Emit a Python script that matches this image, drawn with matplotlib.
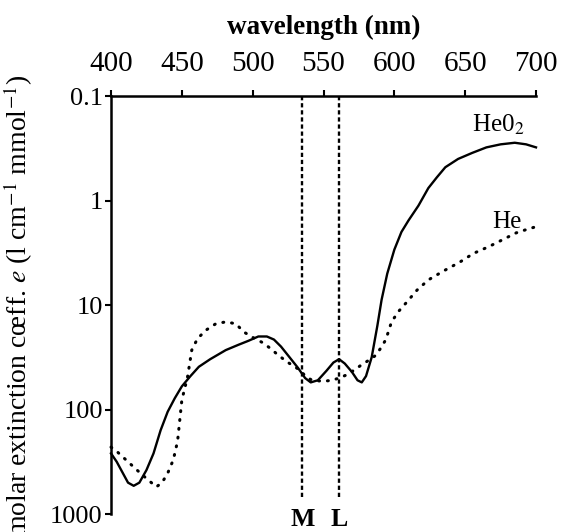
import numpy as np
import matplotlib
matplotlib.use("Agg")
import matplotlib.pyplot as plt
from matplotlib.transforms import blended_transform_factory

plt.rcParams['font.family'] = ['Liberation Serif', 'DejaVu Serif']
plt.rcParams['mathtext.fontset'] = 'stix'

# HeO2 (solid) - wavelength (nm), molar extinction coeff.
wl_heo2 = [400, 404, 408, 412, 416, 420, 425, 430, 435, 440, 445, 450, 456, 462,
           470, 481, 490, 497, 504, 510, 515, 520, 526, 532, 537, 541, 546, 552,
           557, 561, 565, 570, 574, 577, 580, 584, 588, 591, 595, 600, 605, 610,
           617, 624, 630, 636, 645, 655, 665, 675, 685, 693, 700]
e_heo2 = [263, 316, 398, 501, 537, 501, 380, 263, 158, 105, 78, 60, 48, 39,
          33, 27, 24, 22, 20, 20, 21.4, 25, 31.6, 40, 50, 55, 52.5, 42.7,
          35.5, 33, 36.3, 43.6, 52.5, 55, 47.9, 31.6, 15.8, 8.9, 5.0, 2.95, 2.0, 1.55,
          1.12, 0.76, 0.60, 0.48, 0.40, 0.35, 0.31, 0.29, 0.28, 0.29, 0.31]

# He (dotted)
wl_he = [400, 404, 408, 412, 416, 420, 425, 432, 436, 440, 444, 447, 450, 452,
         454, 457, 461, 467, 474, 481, 488, 494, 500, 507, 513, 518, 525, 533,
         538, 542, 550, 556, 561, 566, 572, 577, 583, 587, 591, 594, 598, 603,
         609, 616, 624, 635, 646, 656, 667, 677, 686, 693, 700]
e_he = [229, 251, 282, 316, 355, 398, 457, 550, 501, 407, 302, 200, 81, 63,
        49, 27, 21, 17.4, 15.1, 14.5, 15.1, 18.2, 20.4, 22.9, 26.3, 30.2, 35.5, 41.7,
        49, 52.5, 53.7, 52.5, 50, 46.8, 41.7, 37.2, 33.1, 30.2, 25.1, 21.4, 14.5, 11.5,
        9.3, 7.2, 5.75, 4.7, 3.9, 3.2, 2.75, 2.35, 2.04, 1.9, 1.78]

# cone peaks
peaks = [535, 561]
peak_names = ['M', 'L']

x_ticks = [400, 450, 500, 550, 600, 650, 700]
y_ticks = [0.1, 1, 10, 100, 1000]
y_labels = ['0.1', '1', '10', '100', '1000']

fig = plt.figure(figsize=(5.65, 5.32), dpi=100)
ax = fig.add_axes([0.1965, 0.0338, 0.7522, 0.7857])

ax.plot(wl_heo2, e_heo2, color='black', lw=1.7, clip_on=False)
ax.plot(wl_he, e_he, color='black', lw=2.2, linestyle=(0, (0.3, 2.6)),
        dash_capstyle='round', clip_on=False)

for p in peaks:
    ax.axvline(p, ymin=0.04, ymax=1, color='black', lw=1.7, linestyle=(0, (1.8, 1.2)))

ax.set_yscale('log')
ax.set_ylim(1000, 0.1)
ax.set_xlim(400, 700)

ax.xaxis.tick_top()
ax.xaxis.set_label_position('top')
ax.set_xticks(x_ticks)
ax.set_xticklabels([str(v) for v in x_ticks], fontsize=21)
ax.tick_params(axis='x', length=4, width=1.5, pad=10, direction='out')
ax.set_yticks(y_ticks)
ax.set_yticklabels(y_labels, fontsize=19)
ax.yaxis.set_minor_locator(matplotlib.ticker.NullLocator())
ax.tick_params(axis='y', length=4, width=1.5, pad=2, direction='out')

ax.spines['right'].set_visible(False)
ax.spines['bottom'].set_visible(False)
ax.spines['top'].set_linewidth(1.8)
ax.spines['left'].set_linewidth(1.8)

ax.set_xlabel('wavelength (nm)', fontsize=19.5, fontweight='bold', labelpad=12)

fig.text(0.032, 1 - 75 / 532, r'molar extinction cœff. $e$ (l cm$^{-1}$ mmol$^{-1}$)',
         rotation=90, ha='center', va='top', fontsize=20)

ax.text(472 / 565, 1 - 132 / 532, 'He0$_2$', transform=fig.transFigure,
        fontsize=18, ha='left', va='baseline')
ax.text(492 / 565, 1 - 228 / 532, 'He', transform=fig.transFigure,
        fontsize=18, ha='left', va='baseline')

# M / L just under the end of the dashed lines
trans = blended_transform_factory(ax.transData, fig.transFigure)
for p, name in zip(peaks, peak_names):
    ax.text(p, 1 - 519 / 532, name, transform=trans,
            ha='center', va='center', fontsize=18.5, fontweight='bold')

fig.savefig('out.png', dpi=100)
